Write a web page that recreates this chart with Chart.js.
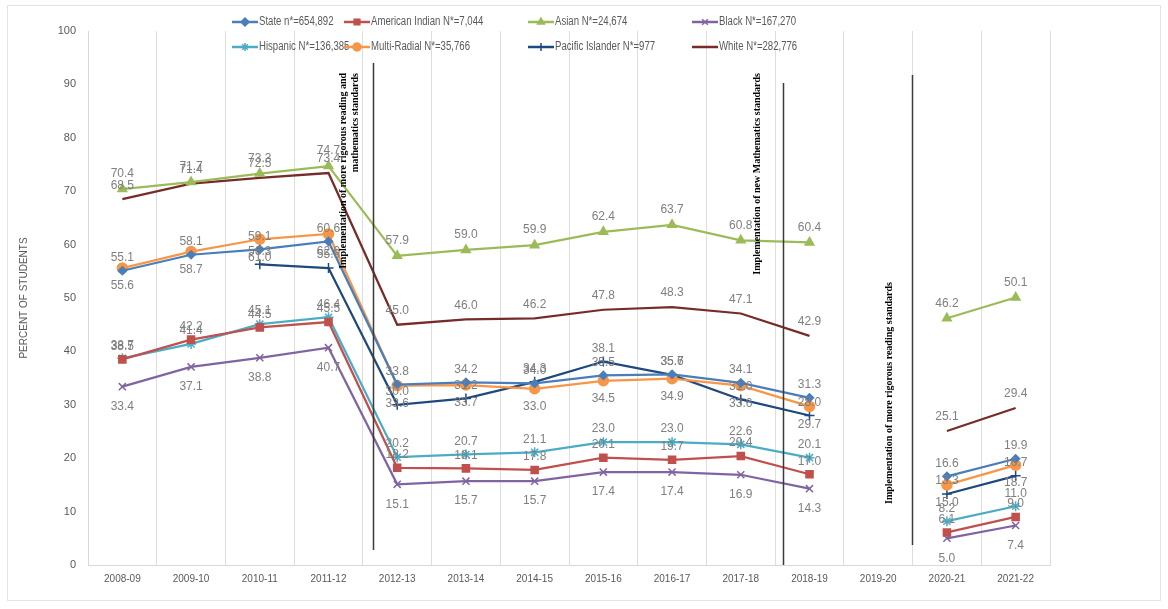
<!DOCTYPE html>
<html>
<head>
<meta charset="utf-8">
<script src="https://cdn.jsdelivr.net/npm/chart.js@4.4.0/dist/chart.umd.min.js"></script>
<style>
  html, body { margin: 0; padding: 0; background: #fff; }
  #wrap { width: 1168px; height: 609px; position: relative; }
</style>
</head>
<body>
<div id="wrap"><canvas id="chart"></canvas></div>
<script>
// school years on the x axis
const categories = ['2008-09', '2009-10', '2010-11', '2011-12', '2012-13', '2013-14', '2014-15',
  '2015-16', '2016-17', '2017-18', '2018-19', '2019-20', '2020-21', '2021-22'];
const yTicks = [0, 10, 20, 30, 40, 50, 60, 70, 80, 90, 100];

// percent of students per group (2019-20 has no data)
const statePct = [55.1, 58.1, 59.1, 60.6, 33.8, 34.2, 34.0, 35.5, 35.7, 34.1, 31.3, null, 16.6, 19.9];
const amIndianPct = [38.5, 42.2, 44.5, 45.5, 18.2, 18.1, 17.8, 20.1, 19.7, 20.4, 17.0, null, 6.1, 9.0];
const asianPct = [70.4, 71.7, 73.3, 74.7, 57.9, 59.0, 59.9, 62.4, 63.7, 60.8, 60.4, null, 46.2, 50.1];
const blackPct = [33.4, 37.1, 38.8, 40.7, 15.1, 15.7, 15.7, 17.4, 17.4, 16.9, 14.3, null, 5.0, 7.4];
const hispanicPct = [38.7, 41.4, 45.1, 46.4, 20.2, 20.7, 21.1, 23.0, 23.0, 22.6, 20.1, null, 8.2, 11.0];
const multiPct = [55.6, 58.7, 61.0, 62.0, 33.6, 33.7, 33.0, 34.5, 34.9, 33.6, 29.7, null, 15.0, 18.7];
const pacificPct = [null, null, 56.3, 55.6, 30.0, 31.2, 34.3, 38.1, 35.6, 31.0, 28.0, null, 13.3, 16.7];
const whitePct = [68.5, 71.4, 72.5, 73.4, 45.0, 46.0, 46.2, 47.8, 48.3, 47.1, 42.9, null, 25.1, 29.4];

const groups = [
  { label: 'State n*=654,892', data: statePct, color: '#4A7EBB', marker: 'rectRot', r: 4, labelDy: -13 },
  { label: 'American Indian N*=7,044', data: amIndianPct, color: '#C0504D', marker: 'rect', r: 5, labelDy: -13 },
  { label: 'Asian N*=24,674', data: asianPct, color: '#9BBB59', marker: 'triangle', r: 5, labelDy: -15 },
  { label: 'Black N*=167,270', data: blackPct, color: '#8064A2', marker: 'crossRot', r: 5, labelDy: 20 },
  { label: 'Hispanic N*=136,385', data: hispanicPct, color: '#4BACC6', marker: 'star', r: 5, labelDy: -13 },
  { label: 'Multi-Radial N*=35,766', data: multiPct, color: '#F79646', marker: 'circle', r: 5, labelDy: 18 },
  { label: 'Pacific Islander N*=977', data: pacificPct, color: '#1F497D', marker: 'cross', r: 5, labelDy: -13 },
  { label: 'White N*=282,776', data: whitePct, color: '#772C2A', marker: 'circle', r: 0, labelDy: -14 },
];

// vertical notes (category position, text lines)
const notes = [
  { at: 3.65, top: 63, bottom: 550, textTop: 73, textDx: [-30, -18], lines: ['Implementation of more rigorous reading and', 'mathematics standards'] },
  { at: 9.62, top: 83, bottom: 565, textTop: 73, textDx: [-26], lines: ['Implementation of new Mathematics standards'] },
  { at: 11.49, top: 75, bottom: 545, textTop: 282, textDx: [-23], lines: ['Implementation of more rigorous reading standards'] },
];

const textGray = '#595959';

const framePlugin = {
  id: 'frame',
  beforeDraw(chart) {
    const ctx = chart.ctx;
    ctx.save();
    ctx.fillStyle = '#fff';
    ctx.fillRect(0, 0, chart.width, chart.height);
    ctx.strokeStyle = '#e3e3e3';
    ctx.lineWidth = 1;
    ctx.strokeRect(7.5, 5.5, 1153, 595);
    ctx.restore();
  },
};

const valueLabels = {
  id: 'valueLabels',
  afterDatasetsDraw(chart) {
    const ctx = chart.ctx;
    ctx.save();
    ctx.font = '12px "Liberation Sans", Arial, sans-serif';
    ctx.fillStyle = '#7f7f7f';
    ctx.textAlign = 'center';
    ctx.textBaseline = 'middle';
    chart.data.datasets.forEach((ds, i) => {
      const meta = chart.getDatasetMeta(i);
      meta.data.forEach((pt, j) => {
        const v = ds.data[j];
        if (v === null) return;
        ctx.fillText(v.toFixed(1), pt.x, pt.y + groups[i].labelDy);
      });
    });
    ctx.restore();
  },
};

const notesPlugin = {
  id: 'notes',
  afterDatasetsDraw(chart) {
    const ctx = chart.ctx;
    const xs = chart.scales.x;
    const x0 = xs.getPixelForValue(0);
    const step = xs.getPixelForValue(1) - x0;
    ctx.save();
    notes.forEach((n) => {
      const x = Math.round(x0 + n.at * step) + 0.5;
      ctx.strokeStyle = '#3a3a3a';
      ctx.lineWidth = 1.5;
      ctx.beginPath();
      ctx.moveTo(x, n.top);
      ctx.lineTo(x, n.bottom);
      ctx.stroke();
      ctx.font = 'bold 10px "Liberation Serif", "Times New Roman", serif';
      ctx.fillStyle = '#000';
      ctx.textAlign = 'right';
      ctx.textBaseline = 'middle';
      n.lines.forEach((t, k) => {
        ctx.save();
        ctx.translate(x + n.textDx[k], n.textTop);
        ctx.rotate(-Math.PI / 2);
        ctx.fillText(t, 0, 0);
        ctx.restore();
      });
    });
    ctx.restore();
  },
};

// Excel style legend: short line with marker, condensed text
const legendPlugin = {
  id: 'excelLegend',
  afterDraw(chart) {
    const ctx = chart.ctx;
    const colX = [232, 344, 528, 692];
    const rowY = [22, 47];
    ctx.save();
    groups.forEach((g, i) => {
      const x = colX[i % 4];
      const y = rowY[Math.floor(i / 4)];
      ctx.strokeStyle = g.color;
      ctx.lineWidth = 2.5;
      ctx.beginPath();
      ctx.moveTo(x, y);
      ctx.lineTo(x + 26, y);
      ctx.stroke();
      if (g.r > 0) {
        ctx.fillStyle = g.color;
        ctx.lineWidth = 1.5;
        Chart.helpers.drawPoint(ctx, { pointStyle: g.marker, radius: 4, borderWidth: 1.5 }, x + 13, y);
      }
      ctx.save();
      ctx.translate(x + 27, y);
      ctx.scale(0.8, 1);
      ctx.fillStyle = textGray;
      ctx.font = '12px "Liberation Sans", Arial, sans-serif';
      ctx.textAlign = 'left';
      ctx.textBaseline = 'middle';
      ctx.fillText(g.label, 0, 0);
      ctx.restore();
    });
    ctx.restore();
  },
};

new Chart(document.getElementById('chart'), {
  type: 'line',
  data: {
    labels: categories,
    datasets: groups.map((g) => ({
      label: g.label,
      data: g.data,
      borderColor: g.color,
      backgroundColor: g.color,
      borderWidth: 2.25,
      pointStyle: g.marker,
      pointRadius: g.r,
      pointBorderWidth: 1.5,
      pointHoverRadius: g.r,
      tension: 0,
      spanGaps: false,
      fill: false,
    })),
  },
  options: {
    responsive: true,
    maintainAspectRatio: false,
    animation: false,
    layout: { padding: { top: 31, right: 118, left: 18, bottom: 0 } },
    plugins: {
      legend: { display: false },
      tooltip: { enabled: false },
    },
    scales: {
      x: {
        offset: true,
        grid: { offset: true, color: '#dedede', drawTicks: false },
        border: { color: '#d9d9d9' },
        ticks: {
          color: textGray,
          font: { family: '"Liberation Sans", Arial, sans-serif', size: 10 },
          padding: 8,
          maxRotation: 0,
          autoSkip: false,
        },
        afterFit(scale) { scale.height = 44; },
      },
      y: {
        min: 0,
        max: 100,
        afterBuildTicks(scale) { scale.ticks = yTicks.map((v) => ({ value: v })); },
        grid: { display: false, drawTicks: false },
        border: { color: '#d9d9d9' },
        ticks: {
          color: textGray,
          font: { family: '"Liberation Sans", Arial, sans-serif', size: 11 },
          padding: 12,
        },
        title: {
          display: true,
          text: 'PERCENT OF STUDENTS',
          color: textGray,
          font: { family: '"Liberation Sans", Arial, sans-serif', size: 10 },
          padding: 0,
        },
        afterFit(scale) { scale.width = 70; },
      },
    },
  },
  plugins: [framePlugin, valueLabels, notesPlugin, legendPlugin],
});
</script>
</body>
</html>
